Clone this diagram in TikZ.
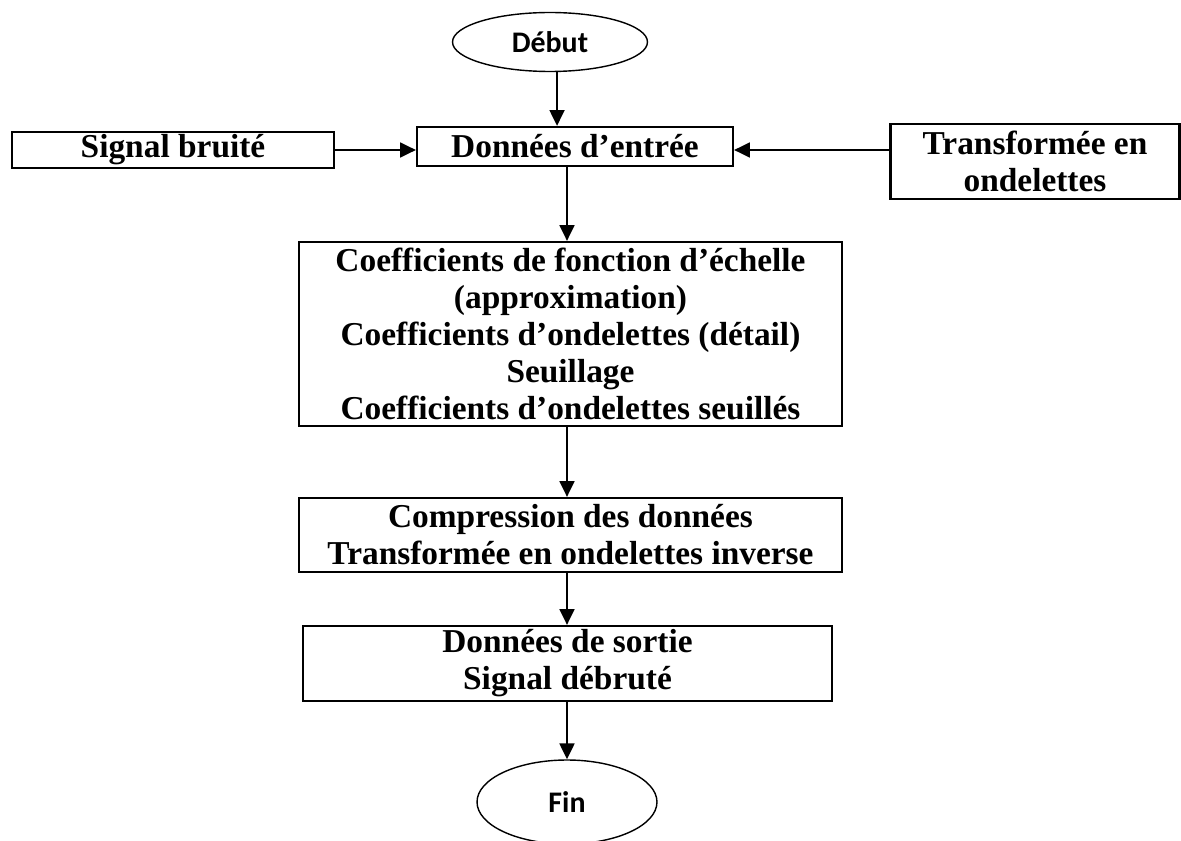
\documentclass[tikz,border=0pt]{standalone}
\usepackage{fontspec}
\setmainfont{Liberation Serif}
\newfontfamily\calibri{Carlito}
\usetikzlibrary{shapes.geometric, arrows.meta, positioning, calc}

\tikzset{
  box/.style={draw, line width=1.3pt, align=center, inner sep=0pt,
              font=\fontsize{19}{21}\selectfont\bfseries},
  term/.style={draw, ellipse, line width=0.8pt, inner sep=0pt,
               font=\calibri\fontsize{17}{20}\selectfont\bfseries},
  arr/.style={-{Triangle[length=9pt,width=8.5pt]}, line width=1.1pt},
}

\begin{document}
\begin{tikzpicture}[x=0.02cm, y=-0.02cm]
\useasboundingbox (0,0) rectangle (1181,841);

% start / end
\node[term, minimum width=3.9cm, minimum height=1.18cm] (debut) at (550,42) {Début};
\node[term, minimum width=3.6cm, minimum height=1.68cm] (fin) at (567,802) {Fin};

% input row
\node[box, minimum width=6.32cm, minimum height=0.78cm] (entree) at (575,146.5) {Données d’entrée};
\node[box, minimum width=6.44cm, minimum height=0.72cm] (signal) at (173,150) {Signal bruité};
\node[box, minimum width=5.78cm, minimum height=1.5cm] (ondel) at (1035,161.5) {Transformée en\\ondelettes};

% processing steps
\node[box, minimum width=10.86cm, minimum height=3.68cm] (coef) at (570.5,334)
  {Coefficients de fonction d’échelle\\(approximation)\\Coefficients d’ondelettes (détail)\\Seuillage\\Coefficients d’ondelettes seuillés};
\node[box, minimum width=10.86cm, minimum height=1.48cm] (compr) at (570.5,535)
  {Compression des données\\Transformée en ondelettes inverse};
\node[box, minimum width=10.58cm, minimum height=1.5cm] (sortie) at (567.5,663.5)
  {Données de sortie\\Signal débruté};

% connectors
\coordinate (dtip) at ([xshift=4pt]debut.south);
\draw[arr] (dtip) -- (dtip |- entree.north);
\draw[arr] (signal.east) -- (signal.east -| entree.west);
\draw[arr] (ondel.west |- signal.east) -- (entree.east |- signal.east);
\draw[arr] (entree.south -| fin) -- (coef.north -| fin);
\draw[arr] (coef.south -| fin) -- (compr.north -| fin);
\draw[arr] (compr.south -| fin) -- (sortie.north -| fin);
\draw[arr] (sortie.south -| fin) -- (fin.north);
\end{tikzpicture}
\end{document}
